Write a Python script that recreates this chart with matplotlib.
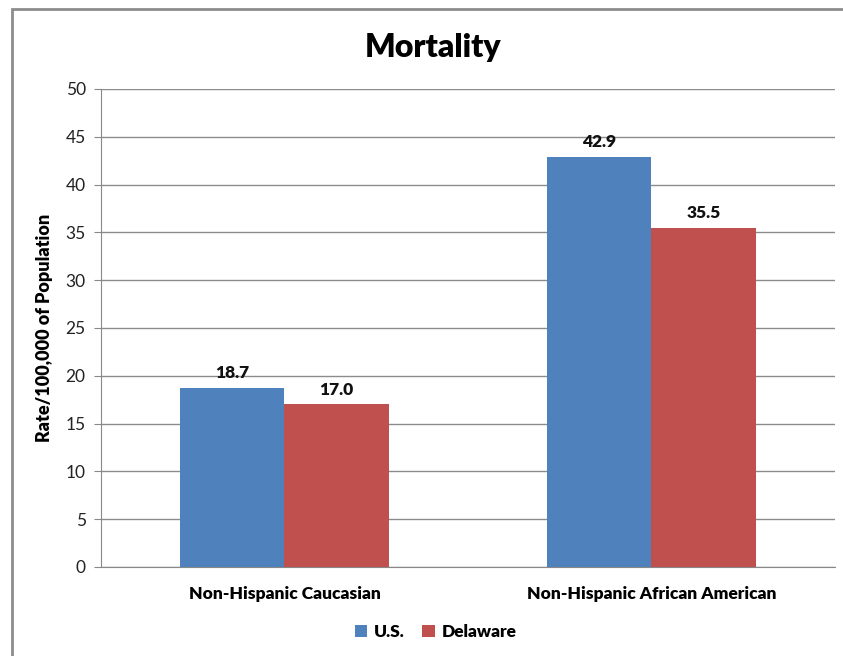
import matplotlib.pyplot as plt
import numpy as np
from matplotlib.patches import Rectangle

plt.rcParams['font.family'] = ['Lato', 'DejaVu Sans']

categorias = ["Non-Hispanic Caucasian", "Non-Hispanic African American"]
us = [18.7, 42.9]
delaware = [17.0, 35.5]
series = ["U.S.", "Delaware"]
colores = ["#4F81BD", "#C0504D"]

fig = plt.figure(figsize=(8.43, 6.56), dpi=100)
ax = fig.add_axes([0.1198, 0.1357, 0.8707, 0.7287])

# marco exterior del gráfico
fig.patches.append(Rectangle((12 / 843, -0.1), 1.2, 1 - 9 / 656 + 0.1,
                             transform=fig.transFigure, fill=False,
                             edgecolor="#8c8c8c", linewidth=2))

indice = np.arange(len(categorias))
ancho = 0.285
b1 = ax.bar(indice - ancho / 2, us, ancho, color=colores[0], label=series[0], zorder=3)
b2 = ax.bar(indice + ancho / 2, delaware, ancho, color=colores[1], label=series[1], zorder=3)

for barras in (b1, b2):
    for b in barras:
        ax.annotate("%.1f" % b.get_height(), (b.get_x() + b.get_width() / 2, b.get_height()),
                    xytext=(0, 5), textcoords="offset points", ha="center", va="bottom",
                    fontsize=12.5, fontweight="heavy", color="#111111")

ax.set_xlim(-0.5, 1.5)
ax.set_ylim(0, 50)
ax.set_yticks(np.arange(0, 51, 5))
ax.set_xticks(indice)
ax.set_xticklabels(categorias, fontsize=12.5, fontweight="heavy")
ax.tick_params(axis="x", length=0, pad=14)
ax.tick_params(axis="y", length=5, color="#888888", labelsize=12.5, labelcolor="#222222", pad=6)
ax.grid(axis="y", color="#8c8c8c", linewidth=1, zorder=0)

for lado in ("top", "right"):
    ax.spines[lado].set_visible(False)
for lado in ("left", "bottom"):
    ax.spines[lado].set_color("#888888")

ax.set_ylabel("Rate/100,000 of Population", fontsize=13, fontweight="heavy", labelpad=9)
fig.text(0.514, 0.928, "Mortality", ha="center", va="center", fontsize=23, fontweight="heavy")

fig.legend(loc="center", bbox_to_anchor=(0.517, 0.037), ncol=2, frameon=False,
           prop={"weight": "heavy", "size": 12.5}, handlelength=0.7, handleheight=0.7,
           handletextpad=0.4, columnspacing=1.0)

fig.savefig("out.png", dpi=100)
